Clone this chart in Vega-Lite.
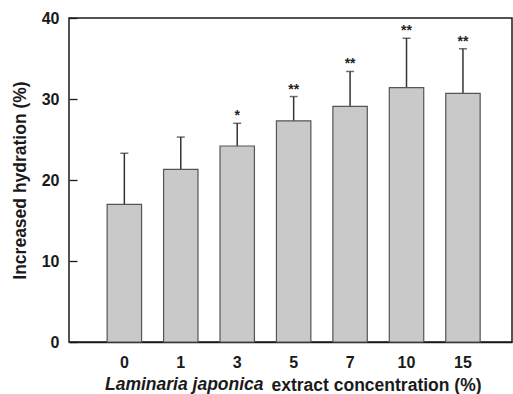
{
  "$schema": "https://vega.github.io/schema/vega-lite/v6.json",
  "width": 443,
  "height": 324,
  "autosize": {"type": "none"},
  "padding": {"left": 69, "top": 18, "right": 1, "bottom": 52},
  "background": "white",
  "config": {
    "font": "Liberation Sans",
    "view": {"stroke": "#1a1a1a", "strokeWidth": 1.5},
    "axis": {
      "grid": false,
      "domainColor": "#1a1a1a",
      "domainWidth": 1.5,
      "tickColor": "#1a1a1a",
      "tickWidth": 1.3,
      "labelFont": "Liberation Sans",
      "labelFontSize": 16,
      "labelFontWeight": "bold",
      "labelColor": "#1a1a1a",
      "titleFont": "Liberation Sans",
      "titleFontWeight": "bold",
      "titleColor": "#1a1a1a"
    }
  },
  "title": {
    "text": "Laminaria japonica",
    "orient": "bottom",
    "anchor": "start",
    "frame": "group",
    "baseline": "alphabetic",
    "dx": 36,
    "dy": -4,
    "offset": 0,
    "font": "Liberation Sans",
    "fontSize": 17.5,
    "fontWeight": "bold",
    "fontStyle": "italic",
    "color": "#1a1a1a"
  },
  "data": {
    "values": [
      {"conc": "0", "mean": 17.0, "hi": 23.3, "sig": ""},
      {"conc": "1", "mean": 21.3, "hi": 25.3, "sig": ""},
      {"conc": "3", "mean": 24.2, "hi": 27.0, "sig": "*"},
      {"conc": "5", "mean": 27.3, "hi": 30.3, "sig": "**"},
      {"conc": "7", "mean": 29.1, "hi": 33.4, "sig": "**"},
      {"conc": "10", "mean": 31.4, "hi": 37.5, "sig": "**"},
      {"conc": "15", "mean": 30.7, "hi": 36.2, "sig": "**"}
    ]
  },
  "encoding": {
    "x": {
      "field": "conc",
      "type": "ordinal",
      "sort": null,
      "scale": {"paddingInner": 0.39, "paddingOuter": 0.62, "align": 0.545},
      "axis": {
        "labelAngle": 0,
        "ticks": false,
        "labelPadding": 12,
        "title": "extract concentration (%)",
        "titleFontSize": 17.5,
        "titleAlign": "left",
        "titleAnchor": "start",
        "titleX": 202,
        "titleY": 48,
        "titleBaseline": "alphabetic"
      }
    }
  },
  "layer": [
    {
      "mark": {"type": "rule", "color": "#333333", "strokeWidth": 1.5},
      "encoding": {
        "y": {"field": "mean", "type": "quantitative"},
        "y2": {"field": "hi"}
      }
    },
    {
      "mark": {"type": "bar", "fill": "#c9c9c9", "stroke": "#555555", "strokeWidth": 1.2},
      "encoding": {
        "y": {
          "field": "mean",
          "type": "quantitative",
          "scale": {"domain": [0, 40]},
          "axis": {
            "values": [0, 10, 20, 30, 40],
            "domain": false,
            "offset": -8,
            "tickSize": 8,
            "labelPadding": 10,
            "title": "Increased hydration (%)",
            "titleFontSize": 17.5,
            "titleX": -57,
            "titleY": 162,
            "titleBaseline": "middle",
            "titleAlign": "center"
          }
        }
      }
    },
    {
      "mark": {"type": "tick", "orient": "horizontal", "size": 8, "thickness": 1.5, "color": "#333333"},
      "encoding": {"y": {"field": "hi", "type": "quantitative"}}
    },
    {
      "mark": {"type": "text", "dy": -3, "baseline": "alphabetic", "fontSize": 14, "fontWeight": "bold", "color": "#222222"},
      "encoding": {
        "y": {"field": "hi", "type": "quantitative"},
        "text": {"field": "sig"}
      }
    }
  ]
}
